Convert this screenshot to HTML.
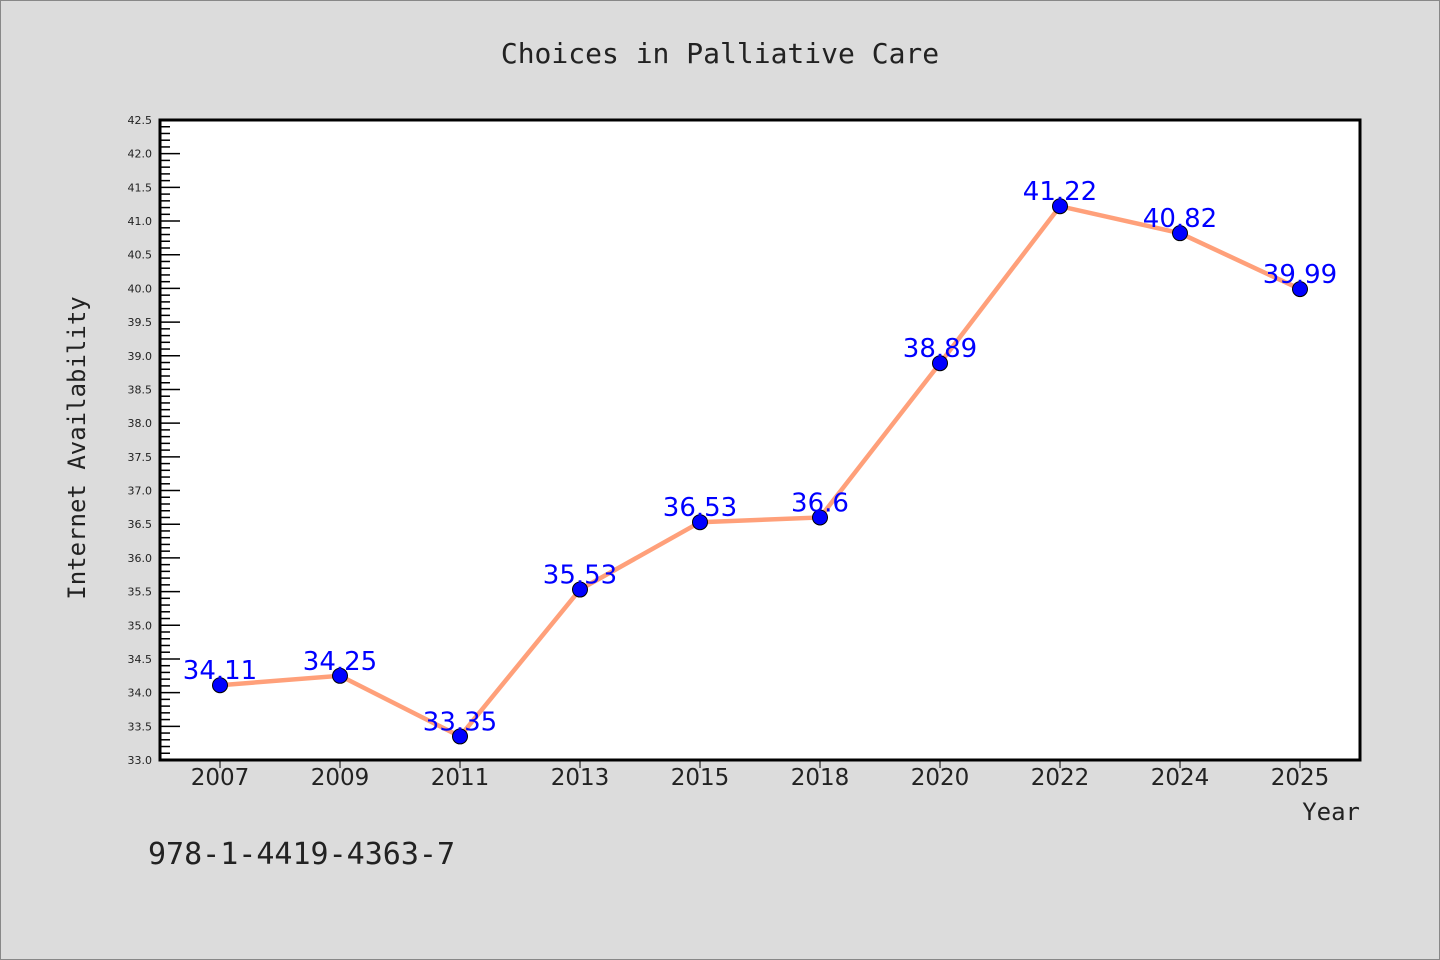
<!DOCTYPE html>
<html><head><meta charset="utf-8"><style>
body{margin:0;background:#dcdcdc;}
svg{display:block;}
</style></head><body>
<svg id="chart" width="1440" height="960" xmlns="http://www.w3.org/2000/svg">
<rect x="0.5" y="0.5" width="1439" height="959" fill="#dcdcdc" stroke="#888"/>
<text x="720" y="63" text-anchor="middle" font-family="DejaVu Sans Mono, monospace" font-size="28" fill="#222">Choices in Palliative Care</text>
<rect x="160" y="120" width="1200" height="640" fill="#fff"/>
<g id="yticks"></g>
<g id="xticks"></g>
<g id="series"></g>
<rect x="160" y="120" width="1200" height="640" fill="none" stroke="#000" stroke-width="3"/>
<text transform="translate(85,448) rotate(-90)" text-anchor="middle" font-family="DejaVu Sans Mono, monospace" font-size="24" fill="#222">Internet Availability</text>
<text x="1360" y="820" text-anchor="end" font-family="DejaVu Sans Mono, monospace" font-size="24" fill="#222">Year</text>
<text x="148" y="864" font-family="DejaVu Sans Mono, monospace" font-size="30" fill="#222">978-1-4419-4363-7</text>
</svg>
<script>
const categories = ["2007","2009","2011","2013","2015","2018","2020","2022","2024","2025"];
const values = [34.11,34.25,33.35,35.53,36.53,36.6,38.89,41.22,40.82,39.99];
const valueLabels = ["34.11","34.25","33.35","35.53","36.53","36.6","38.89","41.22","40.82","39.99"];
const yMin = 33.0, yMax = 42.5;
const NS = "http://www.w3.org/2000/svg";
const L=160,R=1360,T=120,B=760;
const band=(R-L)/categories.length;
function x(i){return L+band*(i+0.5);}
function y(v){return B-(v-yMin)/(yMax-yMin)*(B-T);}
function mk(tag,attrs,parent){const e=document.createElementNS(NS,tag);for(const k in attrs)e.setAttribute(k,attrs[k]);parent.appendChild(e);return e;}
const yg=document.getElementById('yticks');
for(let k=0;k<=Math.round((yMax-yMin)*10);k++){
  const v=yMin+k*0.1, yy=y(v), major=k%5===0;
  const t=mk('line',{x1:L,x2:L+(major?20:10),y1:yy,y2:yy,stroke:'#000','stroke-width':1.5},yg);
  
  
  if(major){
    const tx=mk('text',{x:L-8,y:yy+4,'text-anchor':'end','font-family':'DejaVu Sans, sans-serif','font-size':11,fill:'#222'},yg);
    tx.textContent=v.toFixed(1);
    
    
  }
}
const xg=document.getElementById('xticks');
categories.forEach((c,i)=>{
  const t=mk('line',{x1:x(i),x2:x(i),y1:B,y2:B+8,stroke:'#000','stroke-width':1},xg);
  
  
  const tx=mk('text',{x:x(i),y:B+25,'text-anchor':'middle','font-family':'DejaVu Sans, sans-serif','font-size':23,fill:'#222'},xg);
  tx.textContent=c;
  
  
});
const sg=document.getElementById('series');
const pl=mk('polyline',{points:values.map((v,i)=>x(i)+','+y(v)).join(' '),fill:'none',stroke:'#ffa07a','stroke-width':4.5},sg);


values.forEach((v,i)=>{
  const c=mk('circle',{cx:x(i),cy:y(v),r:7.5,fill:'#0000ff',stroke:'#000','stroke-width':1},sg);
  
  
});
values.forEach((v,i)=>{
  const tx=mk('text',{x:x(i),y:y(v)-6,'text-anchor':'middle','font-family':'DejaVu Sans, sans-serif','font-size':26,fill:'#0000ff'},sg);
  tx.textContent=valueLabels[i];
  
  
});
</script>
</body></html>
